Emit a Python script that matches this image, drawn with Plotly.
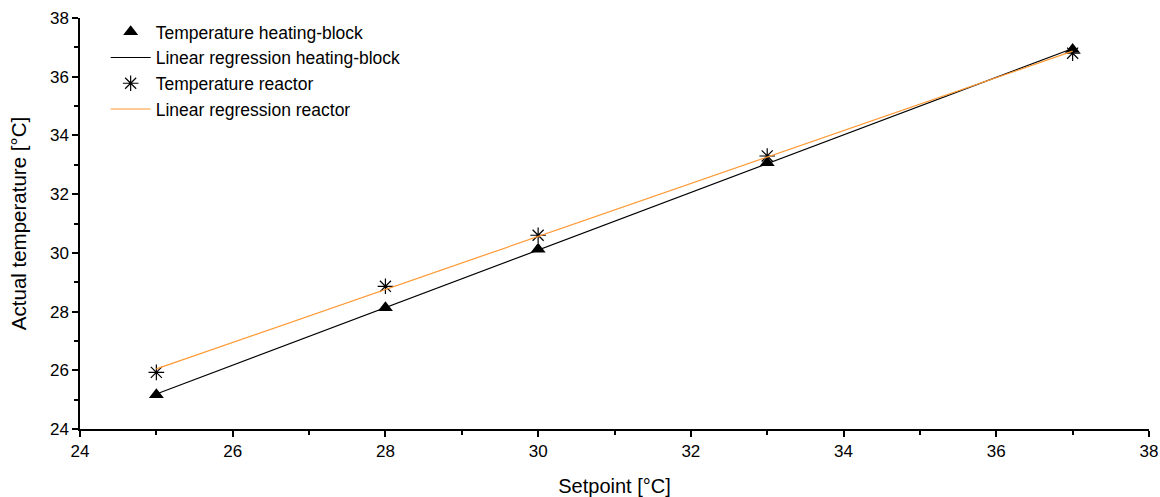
import numpy as np
import plotly.graph_objects as go

setpoint = [25, 28, 30, 33, 37]
temp_block = [25.17, 28.13, 30.12, 33.07, 36.93]
temp_reactor = [25.93, 28.86, 30.6, 33.3, 36.8]

x_range = [24, 38]
y_range = [24, 38]

def fit(x, y):
    a, b = np.polyfit(x, y, 1)
    xs = np.array([min(x), max(x)], dtype=float)
    return xs, a * xs + b

xb, yb = fit(setpoint, temp_block)
xr, yr = fit(setpoint, temp_reactor)

font = "Liberation Sans, Arial, sans-serif"

fig = go.Figure()
fig.add_trace(go.Scatter(x=setpoint, y=temp_block, mode="markers", name="Temperature heating-block",
                         marker=dict(symbol="triangle-up", size=13, color="black")))
fig.add_trace(go.Scatter(x=xb, y=yb, mode="lines", name="Linear regression heating-block",
                         line=dict(color="black", width=1.2)))
fig.add_trace(go.Scatter(x=setpoint, y=temp_reactor, mode="markers", name="Temperature reactor",
                         marker=dict(symbol="asterisk-open", size=13, color="black",
                                     line=dict(color="black", width=1.2))))
fig.add_trace(go.Scatter(x=xr, y=yr, mode="lines", name="Linear regression reactor",
                         line=dict(color="#ff9933", width=1.2)))

axis_common = dict(showline=True, linecolor="black", linewidth=1.5, mirror=False,
                   ticks="outside", ticklen=6, tickwidth=1.5, tickcolor="black",
                   showgrid=False, zeroline=False, dtick=2, automargin=False,
                   tickfont=dict(family=font, size=17, color="black"),
                   minor=dict(ticks="outside", ticklen=4, tickwidth=1.5, tickcolor="black", dtick=1, showgrid=False))

fig.update_layout(
    width=1160, height=497,
    margin=dict(l=80, r=11, t=18, b=68),
    paper_bgcolor="white", plot_bgcolor="white",
    font=dict(family=font, size=17, color="black"),
    xaxis=dict(range=x_range, title=dict(text="Setpoint [°C]", font=dict(family=font, size=20), standoff=20),
               **axis_common),
    yaxis=dict(range=y_range, title=dict(text="Actual temperature [°C]", font=dict(family=font, size=20.5), standoff=18),
               **axis_common),
    legend=dict(x=0.024, y=1.01, xanchor="left", yanchor="top", bgcolor="rgba(0,0,0,0)",
                font=dict(family=font, size=17.5, color="black"), itemwidth=40, tracegroupgap=0),
    showlegend=True,
)

fig.write_html("out.html")
